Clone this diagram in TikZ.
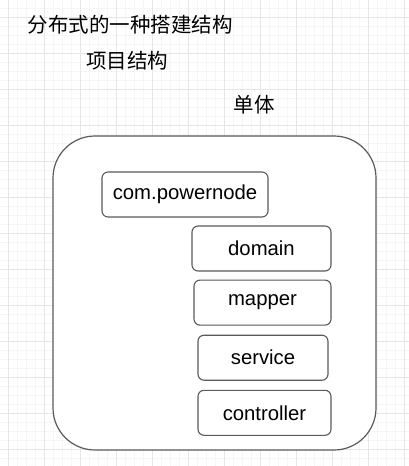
\documentclass[tikz,border=0pt]{standalone}
\usepackage{fontspec}
\setmainfont{Liberation Sans}
\newfontfamily\cjk{Noto Sans CJK SC}
\usetikzlibrary{positioning}
\definecolor{gridminor}{HTML}{F6F6F6}
\definecolor{gridmajor}{HTML}{E6E6E6}
\definecolor{boxline}{HTML}{5A5A5A}
\tikzset{
  pkg/.style={rectangle, draw=boxline, line width=1.1pt, rounded corners=6pt, minimum height=45pt, text centered, font=\fontsize{20.3}{23}\selectfont, inner sep=0pt},
  title/.style={font=\cjk\fontsize{20.5}{23}\selectfont, inner sep=0pt}
}

\begin{document}
\begin{tikzpicture}[x=1pt, y=-1pt]
    \useasboundingbox (0,0) rectangle (409,466);
    \fill[white] (0,0) rectangle (409,466);

    % Grid
    \foreach \gx in {-1,0,...,45} \draw[gridminor, line width=0.5pt] (8+9*\gx,0) -- (8+9*\gx,466);
    \foreach \gy in {-2,-1,...,52} \draw[gridminor, line width=0.5pt] (0,17+9*\gy) -- (409,17+9*\gy);
    \foreach \gx in {0,...,11} \draw[gridmajor, line width=0.6pt] (8+36*\gx,0) -- (8+36*\gx,466);
    \foreach \gy in {0,...,12} \draw[gridmajor, line width=0.6pt] (0,17+36*\gy) -- (409,17+36*\gy);

    % Titles
    \node (t1) [title] at (130,25) {分布式的一种搭建结构};
    \node (t2) [title] at (127,61) {项目结构};
    \node (t3) [title] at (254,105) {单体};

    % Monolith
    \node (mono) [draw=boxline, line width=1.2pt, fill=white, rounded corners=42pt, minimum width=323pt, minimum height=314pt] at (214.5,293) {};

    % Packages
    \node (root) [pkg, minimum width=166pt] at (185,194.5) {com.powernode};
    \node (domain) [pkg, minimum width=139pt] at (261.5,248.5) {domain};
    \node (mapper) [pkg, minimum width=137pt, below=8pt of domain, xshift=1pt] {mapper};
    \node (service) [pkg, minimum width=130pt, below=9pt of mapper, xshift=0.5pt] {service};
    \node (controller) [pkg, minimum width=133pt, below=9pt of service, xshift=1.5pt] {controller};
\end{tikzpicture}
\end{document}
